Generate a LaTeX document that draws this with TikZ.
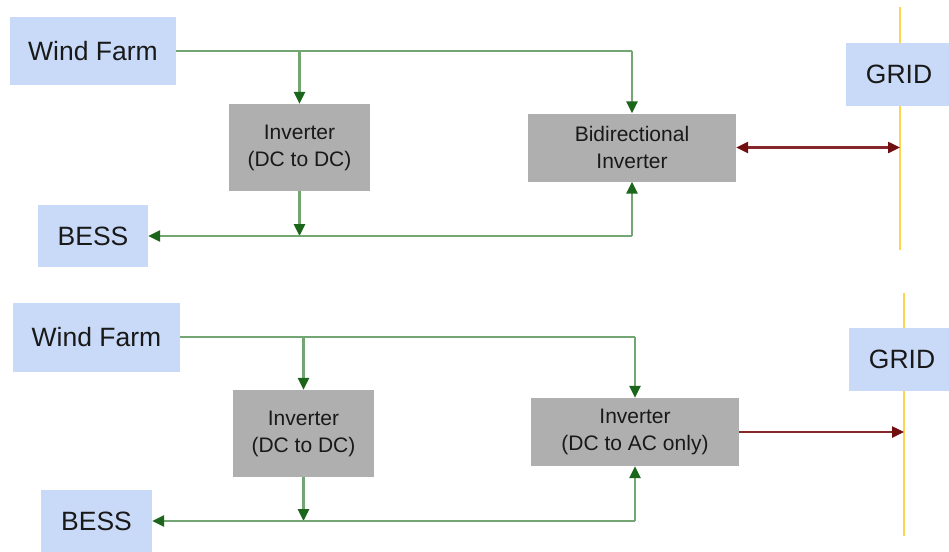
\documentclass[tikz,border=0pt]{standalone}
\usepackage{fontspec}
\setmainfont{Liberation Sans}
\usetikzlibrary{arrows.meta}
\definecolor{boxblue}{HTML}{C9DAF8}
\definecolor{boxgray}{HTML}{AFAFAF}
\definecolor{flowgreen}{HTML}{74A674}
\definecolor{tipgreen}{HTML}{1B661B}
\definecolor{powerred}{HTML}{86282A}
\definecolor{tipred}{HTML}{700E10}
\definecolor{busyellow}{HTML}{FFD44F}
\begin{document}
\begin{tikzpicture}[x=1pt,y=1pt,yscale=-1,
    src/.style={fill=boxblue,draw=none,text=black!90,inner sep=0pt,font=\fontsize{26.5}{30}\selectfont},
    conv/.style={fill=boxgray,draw=none,text=black!90,inner sep=0pt,align=center,
      minimum height=87,font=\fontsize{21}{27}\selectfont},
    line/.style={draw=flowgreen,line width=2.6pt},
    flow/.style={line,-{Triangle[length=12pt,width=11pt,color=tipgreen]}},
    power/.style={draw=powerred,line width=2.4pt,-{Triangle[length=12pt,width=11pt,color=tipred]}},
    twoway/.style={draw=powerred,line width=2.4pt,
      {Triangle[length=12pt,width=11pt,color=tipred]}-{Triangle[length=12pt,width=11pt,color=tipred]}},
    busbar/.style={draw=busyellow,line width=2.4pt}]
    \useasboundingbox (0,0) rectangle (949,551);
    % upper layout: bidirectional inverter
    \node[src,minimum width=166,minimum height=67] (wfA) at (93,51) {Wind Farm};
    \node[conv,minimum width=141] (invA) at (299.5,147.5) {Inverter\\(DC to DC)};
    \node[src,minimum width=110,minimum height=62] (bessA) at (93,236) {BESS};
    \node[conv,minimum width=208,minimum height=68] (biA) at (632,147.5) {Bidirectional\\Inverter};
    \coordinate (gridAtop) at (900,7);
    \coordinate (gridAbot) at (900,250);
    \draw[busbar] (gridAtop) -- (gridAbot);
    \node[src,minimum width=106,minimum height=63] (gridA) at (899,74.5) {GRID};
    \draw[line] (wfA.east) -- (wfA.east -| biA.north);
    \draw[flow] (wfA.east -| biA.north) -- (biA.north);
    \draw[flow] (wfA.east -| invA.north) -- (invA.north);
    \draw[flow] (invA.south) -- (invA.south |- bessA.east);
    \draw[flow] (biA.south |- bessA.east) -- (bessA.east);
    \draw[flow] (biA.south |- bessA.east) -- (biA.south);
    \draw[twoway] (biA.east) -- (biA.east -| gridAtop);
    % lower layout: one-way inverter
    \node[src,minimum width=167,minimum height=69] (wfB) at (96.5,337) {Wind Farm};
    \node[conv,minimum width=141] (invB) at (303.5,433.5) {Inverter\\(DC to DC)};
    \node[src,minimum width=111,minimum height=62] (bessB) at (96.5,521) {BESS};
    \node[conv,minimum width=208,minimum height=68] (acB) at (635,432) {Inverter\\(DC to AC only)};
    \coordinate (gridBtop) at (904,293);
    \coordinate (gridBbot) at (904,536);
    \draw[busbar] (gridBtop) -- (gridBbot);
    \node[src,minimum width=106,minimum height=63] (gridB) at (902,359.5) {GRID};
    \draw[line] (wfB.east) -- (wfB.east -| acB.north);
    \draw[flow] (wfB.east -| acB.north) -- (acB.north);
    \draw[flow] (wfB.east -| invB.north) -- (invB.north);
    \draw[flow] (invB.south) -- (invB.south |- bessB.east);
    \draw[flow] (acB.south |- bessB.east) -- (bessB.east);
    \draw[flow] (acB.south |- bessB.east) -- (acB.south);
    \draw[power] (acB.east) -- (acB.east -| gridBtop);
\end{tikzpicture}
\end{document}
